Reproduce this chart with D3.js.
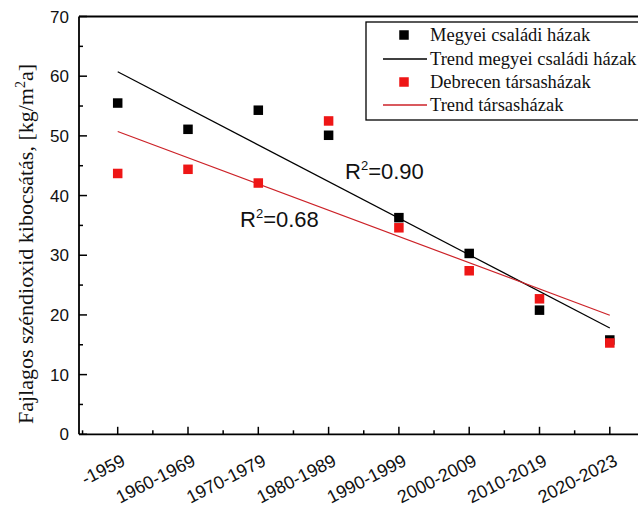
<!DOCTYPE html>
<html>
<head>
<meta charset="utf-8">
<script src="https://cdn.jsdelivr.net/npm/d3@7"></script>
<style>
  html, body { margin: 0; padding: 0; background: #fff; }
  svg { display: block; }
</style>
</head>
<body>
<svg id="chart" width="638" height="511"></svg>
<script>
// Building periods on the horizontal axis
const periods = ["-1959", "1960-1969", "1970-1979", "1980-1989", "1990-1999", "2000-2009", "2010-2019", "2020-2023"];
// Specific CO2 emission, kg/m²a
const megyeiHazak = [55.5, 51.1, 54.3, 50.1, 36.3, 30.3, 20.8, 15.8];
const debrecenTarsashazak = [43.7, 44.4, 42.1, 52.5, 34.6, 27.4, 22.7, 15.3];
const yTicks = [0, 10, 20, 30, 40, 50, 60, 70];
const yMinorTicks = [5, 15, 25, 35, 45, 55, 65];
const r2Labels = ["0.90", "0.68"];
const legendLabels = ["Megyei családi házak", "Trend megyei családi házak", "Debrecen társasházak", "Trend társasházak"];
const yTitle = "Fajlagos széndioxid kibocsátás, [kg/m";

const black = "#000000";
const redMark = "#ee1616";
const redLine = "#cc2228";
const sansFont = "'Liberation Sans', Arial, sans-serif";
const serifFont = "'Liberation Serif', 'Times New Roman', serif";

const svg = d3.select("#chart");
const plotLeft = 79, plotTop = 16.5, plotBottom = 434.3;
const step = 70.3, first = 117.7;
const xMin = (plotLeft - first) / step;
const xMax = 7.45;

const x = d3.scaleLinear().domain([xMin, xMax]).range([plotLeft, first + xMax * step]);
const y = d3.scaleLinear().domain([0, 70]).range([plotBottom, plotTop]);

// least-squares trend over period index
function trend(vals) {
  const n = vals.length;
  const mx = d3.mean(vals, (d, i) => i), my = d3.mean(vals);
  let sxy = 0, sxx = 0;
  vals.forEach((v, i) => { sxy += (i - mx) * (v - my); sxx += (i - mx) * (i - mx); });
  const b = sxy / sxx, a = my - b * mx;
  return [[0, a], [n - 1, a + b * (n - 1)]];
}

// y axis
const yAxis = svg.append("g").attr("transform", `translate(${plotLeft},0)`);
yAxis.append("line").attr("x1", 0).attr("x2", 0).attr("y1", plotTop).attr("y2", plotBottom)
  .attr("stroke", black).attr("stroke-width", 1.8);
yAxis.selectAll(".maj").data(yTicks).join("line").attr("class", "maj")
  .attr("x1", 0).attr("x2", 8).attr("y1", d => y(d)).attr("y2", d => y(d))
  .attr("stroke", black).attr("stroke-width", 1.5);
yAxis.selectAll(".min").data(yMinorTicks).join("line").attr("class", "min")
  .attr("x1", 0).attr("x2", 4).attr("y1", d => y(d)).attr("y2", d => y(d))
  .attr("stroke", black).attr("stroke-width", 1.5);
yAxis.selectAll("text").data(yTicks).join("text")
  .attr("x", -10).attr("y", d => y(d)).attr("dy", "0.36em")
  .attr("text-anchor", "end")
  .attr("font-family", sansFont).attr("font-size", 17)
  .attr("fill", "#111").text(d => d);

// top frame line
svg.append("line").attr("x1", plotLeft).attr("x2", 640).attr("y1", plotTop).attr("y2", plotTop)
  .attr("stroke", black).attr("stroke-width", 1.8);

// x axis
const xAxis = svg.append("g").attr("transform", `translate(0,${plotBottom})`);
xAxis.append("line").attr("x1", plotLeft).attr("x2", 640).attr("y1", 0).attr("y2", 0)
  .attr("stroke", black).attr("stroke-width", 1.8);
const majors = d3.range(periods.length);
const minors = d3.range(-0.5, periods.length, 1);
xAxis.selectAll(".maj").data(majors).join("line").attr("class", "maj")
  .attr("x1", d => x(d)).attr("x2", d => x(d)).attr("y1", 0).attr("y2", -7.5)
  .attr("stroke", black).attr("stroke-width", 1.5);
xAxis.selectAll(".min").data(minors).join("line").attr("class", "min")
  .attr("x1", d => x(d)).attr("x2", d => x(d)).attr("y1", 0).attr("y2", -4)
  .attr("stroke", black).attr("stroke-width", 1.5);
xAxis.selectAll("text").data(periods).join("text")
  .attr("transform", (d, i) => `translate(${x(i) + 3},${19}) rotate(-27)`)
  .attr("text-anchor", "end").attr("dy", "0.71em")
  .attr("font-family", sansFont).attr("font-size", 18)
  .attr("fill", "#111").text(d => d);

// y axis title
const yt = svg.append("text")
  .attr("transform", `translate(33,${244}) rotate(-90)`)
  .attr("text-anchor", "middle")
  .attr("font-family", serifFont).attr("font-size", 22)
  .attr("fill", "#111");
yt.append("tspan").text(yTitle);
yt.append("tspan").attr("dy", -8).attr("font-size", 14).text("2");
yt.append("tspan").attr("dy", 8).text("a]");

// trend lines
const line = d3.line().x(d => x(d[0])).y(d => y(d[1]));
svg.append("path").attr("d", line(trend(megyeiHazak)))
  .attr("fill", "none").attr("stroke", black).attr("stroke-width", 1.2);
svg.append("path").attr("d", line(trend(debrecenTarsashazak)))
  .attr("fill", "none").attr("stroke", redLine).attr("stroke-width", 1.2);

// markers
const sq = 9.5;
svg.append("g").selectAll("rect").data(megyeiHazak).join("rect")
  .attr("x", (d, i) => x(i) - sq / 2).attr("y", d => y(d) - sq / 2)
  .attr("width", sq).attr("height", sq).attr("fill", black);
svg.append("g").selectAll("rect").data(debrecenTarsashazak).join("rect")
  .attr("x", (d, i) => x(i) - sq / 2).attr("y", d => y(d) - sq / 2)
  .attr("width", sq).attr("height", sq).attr("fill", redMark);

// R² annotations
function r2(xp, yp, val) {
  const t = svg.append("text").attr("x", xp).attr("y", yp)
    .attr("font-family", sansFont).attr("font-size", 22).attr("fill", "#111");
  t.append("tspan").text("R");
  t.append("tspan").attr("dy", -9).attr("font-size", 13).text("2");
  t.append("tspan").attr("dy", 9).text("=" + val);
}
r2(345, 179, r2Labels[0]);
r2(240, 227, r2Labels[1]);

// legend
const lg = svg.append("g");
lg.append("rect").attr("x", 366).attr("y", 22).attr("width", 290).attr("height", 98)
  .attr("fill", "#fff").attr("stroke", black).attr("stroke-width", 1.3);
const rows = [35, 59, 82, 105];
const kinds = [["sq", black], ["ln", black], ["sq", redMark], ["ln", redLine]];
kinds.forEach((k, i) => {
  if (k[0] === "sq") {
    lg.append("rect").attr("x", 404 - sq / 2).attr("y", rows[i] - sq / 2)
      .attr("width", sq).attr("height", sq).attr("fill", k[1]);
  } else {
    lg.append("line").attr("x1", 383).attr("x2", 427).attr("y1", rows[i]).attr("y2", rows[i])
      .attr("stroke", k[1]).attr("stroke-width", 1.3);
  }
  lg.append("text").attr("x", 430).attr("y", rows[i]).attr("dy", "0.33em")
    .attr("font-family", serifFont).attr("font-size", 18.5)
    .attr("fill", "#111").text(legendLabels[i]);
});
</script>
</body>
</html>
